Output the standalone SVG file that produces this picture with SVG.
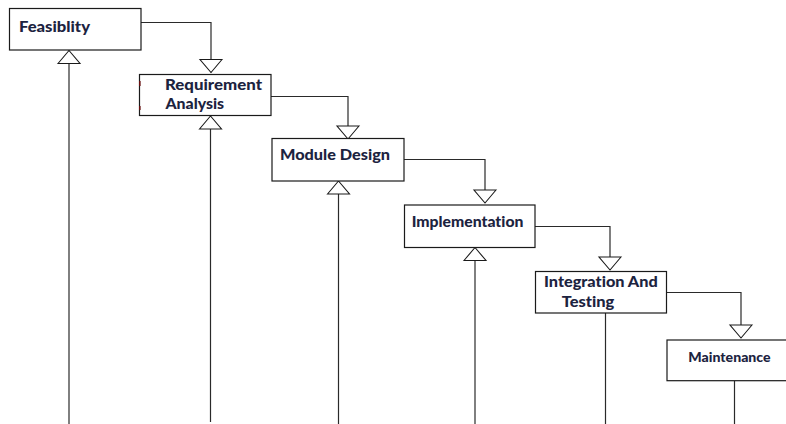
<svg xmlns="http://www.w3.org/2000/svg" width="786" height="424" viewBox="0 0 786 424">
  <style>
    .box { fill: #ffffff; stroke: #1a1a1a; stroke-width: 1.2; }
    .lbl { font-family: Lato, "Liberation Sans", sans-serif; font-weight: 900; font-size: 15px; fill: #1c2340; font-variant-ligatures: none; }
    .small { font-size: 13.5px; }
    .link { fill: none; stroke: #2a2a2a; stroke-width: 1.2; }
    .mark { fill: #6b1010; }
  </style>
  <defs>
    <!-- hollow triangle head, tip at the end of the path -->
    <marker id="open-tri" markerUnits="userSpaceOnUse" markerWidth="13" markerHeight="22"
            viewBox="0 0 13 22" refX="13" refY="11" orient="auto" overflow="visible">
      <path d="M0,0 L13,11 L0,22 Z" fill="#ffffff" stroke="#1a1a1a" stroke-width="1.1"/>
    </marker>
  </defs>

  <rect width="786" height="424" fill="#ffffff"/>

  <!-- connectors -->
  <g id="connectors">
    <!-- downward flow between stages -->
    <path class="link" d="M141,22.5 H211 V72.5" marker-end="url(#open-tri)"/>
    <path class="link" d="M271,96.5 H348 V139" marker-end="url(#open-tri)"/>
    <path class="link" d="M404,159.5 H485 V203" marker-end="url(#open-tri)"/>
    <path class="link" d="M535,226.5 H610 V270" marker-end="url(#open-tri)"/>
    <path class="link" d="M666,292.5 H741 V338" marker-end="url(#open-tri)"/>
    <!-- feedback lines rising from the bottom -->
    <path class="link" d="M69,424 V50.5" marker-end="url(#open-tri)"/>
    <path class="link" d="M210.5,422 V116" marker-end="url(#open-tri)"/>
    <path class="link" d="M338.5,424 V181" marker-end="url(#open-tri)"/>
    <path class="link" d="M475,424 V247.5" marker-end="url(#open-tri)"/>
    <path class="link" d="M605.5,424 V313"/>
    <path class="link" d="M734.5,424 V381"/>
  </g>

  <g id="feasibility">
    <rect class="box" x="9.5" y="8.5" width="131.5" height="41.5"/>
    <text class="lbl" x="19" y="32" textLength="71" lengthAdjust="spacingAndGlyphs">Feasiblity</text>
  </g>

  <g id="requirement-analysis">
    <rect class="box" x="139.5" y="74.5" width="131.5" height="41"/>
    <rect class="mark" x="139" y="81" width="1.6" height="5"/>
    <rect class="mark" x="139" y="106" width="1.6" height="4"/>
    <text class="lbl" x="165" y="89.5" textLength="97" lengthAdjust="spacingAndGlyphs">Requirement</text>
    <text class="lbl" x="165.5" y="109.3" textLength="58.5" lengthAdjust="spacingAndGlyphs">Analysis</text>
  </g>

  <g id="module-design">
    <rect class="box" x="272" y="138.5" width="132" height="42.5"/>
    <text class="lbl" x="280" y="159.5" textLength="110" lengthAdjust="spacingAndGlyphs">Module Design</text>
  </g>

  <g id="implementation">
    <rect class="box" x="404.5" y="205" width="130.5" height="42.5"/>
    <text class="lbl" x="411.7" y="227" textLength="111.7" lengthAdjust="spacingAndGlyphs">Implementation</text>
  </g>

  <g id="integration-testing">
    <rect class="box" x="535.5" y="271.5" width="131" height="41.5"/>
    <text class="lbl" x="544" y="287.3" textLength="113.7" lengthAdjust="spacingAndGlyphs">Integration And</text>
    <text class="lbl" x="561.7" y="306.7" textLength="52.6" lengthAdjust="spacingAndGlyphs">Testing</text>
  </g>

  <g id="maintenance">
    <rect class="box" x="667" y="340" width="130" height="40.7"/>
    <text class="lbl small" x="688.3" y="361.7" textLength="82.3" lengthAdjust="spacingAndGlyphs">Maintenance</text>
  </g>
</svg>
